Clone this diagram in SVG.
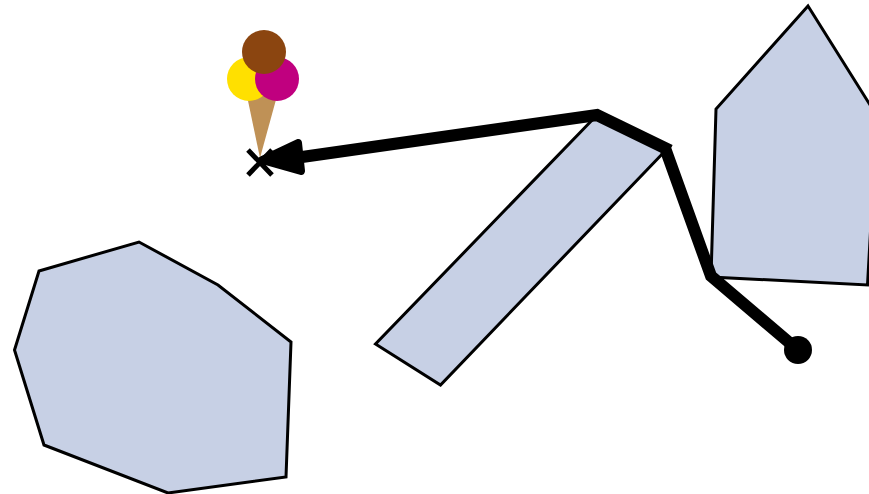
<svg xmlns="http://www.w3.org/2000/svg" width="869" height="494" viewBox="0 0 869 494">
<style>
.ob{fill:#c7d0e5;stroke:#000;stroke-width:3;stroke-linejoin:miter}
.route{fill:none;stroke:#000;stroke-width:12;stroke-linejoin:miter}
.x{fill:none;stroke:#000;stroke-width:5}
</style>
<rect width="869" height="494" fill="#fff"/>
<g id="obstacle-left"><polygon class="ob" points="39,271 139,242 218,285 291,342 286,477 168,493 44,445 14.500,350"/></g>
<g id="obstacle-middle"><polygon class="ob" points="597,115 667,149 440.500,385 375.500,344"/></g>
<g id="obstacle-right"><polygon class="ob" points="808,6 877,116 867.500,285 711,277 716,109"/></g>
<g id="icecream">
<polygon points="247,96 277,96 260,158" fill="#bf9156"/>
<circle cx="249" cy="79" r="22" fill="#ffe000"/>
<circle cx="277" cy="79" r="22" fill="#c0007f"/>
<circle cx="264" cy="52" r="22" fill="#8b4510"/>
</g>
<g id="connectors">
<path class="route" d="M798,350 L711,276 L665,148 M670,150.500 L597,115 L295,158"/>
<circle cx="798" cy="350" r="14"/>
<polygon points="298,143 262,160 301,171" fill="#000" stroke="#000" stroke-width="8" stroke-linejoin="round"/>
<path class="x" d="M248,150 L272,175 M248,175 L272,150"/>
</g>
</svg>
